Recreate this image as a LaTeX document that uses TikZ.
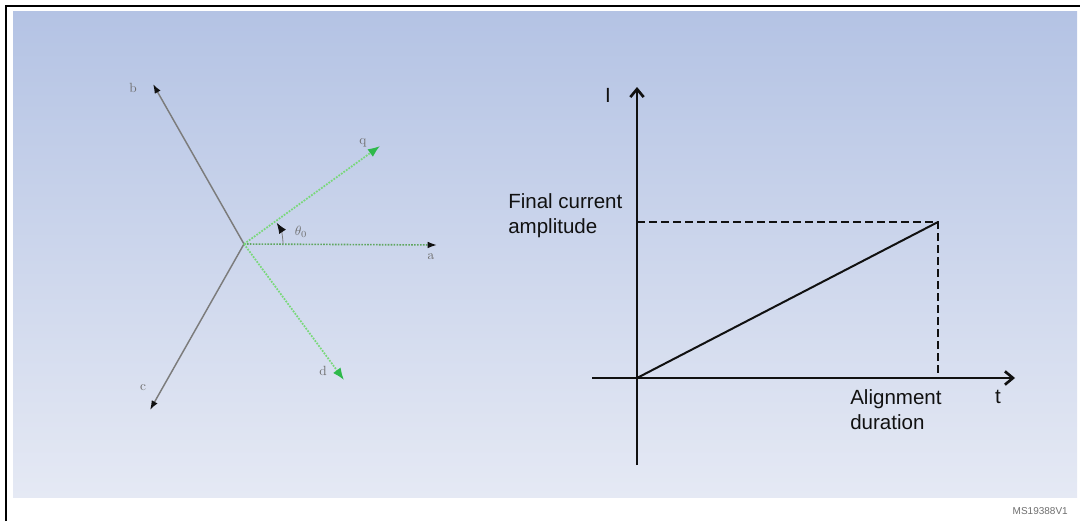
\documentclass[tikz,border=0pt]{standalone}
\usepackage{fontspec}
\setsansfont{Liberation Sans}
\usetikzlibrary{arrows.meta}
\definecolor{bgTop}{HTML}{B4C3E4}
\definecolor{bgBot}{HTML}{E5E9F4}
\definecolor{phGray}{HTML}{7C7C7C}
\definecolor{dqLine}{HTML}{78D878}
\definecolor{dqTip} {HTML}{2EB94B}
\definecolor{aLine} {HTML}{5FA65F}
\definecolor{lbl}   {HTML}{6E6E6E}
\definecolor{ink}   {HTML}{111111}

\begin{document}
\begin{tikzpicture}[x=0.75pt,y=0.75pt,
    frame/.style ={draw=black,line width=1.5pt},
    phase/.style ={draw=phGray,line width=1.1pt,-{Latex[length=7pt,width=5pt,color=ink]}},
    aaxis/.style ={draw=aLine,line width=1.2pt,densely dotted,-{Latex[length=7pt,width=5pt,color=ink]}},
    dqaxis/.style={draw=dqLine,line width=1.3pt,densely dotted,-{Latex[length=9pt,width=7pt,color=dqTip]}},
    tharc/.style ={draw=phGray,line width=0.6pt,-{Latex[length=8pt,width=6pt,color=ink]}},
    phlbl/.style ={font=\normalsize,text=lbl,inner sep=0pt},
    axisln/.style={draw=ink,line width=2pt},
    guide/.style ={draw=ink,line width=1.8pt,dash pattern=on 6pt off 3pt},
    ramp/.style  ={draw=ink,line width=1.5pt},
    glbl/.style  ={font=\sffamily\fontsize{15.4}{18.75}\selectfont,text=ink,inner sep=0pt},
  ]

% fixed bounding box -> same proportions as the 1080x521 reference
\useasboundingbox (0,0) rectangle (1080,-521);

% ---- frame and background --------------------------------------------------
\shade[top color=bgTop,bottom color=bgBot] (13,-11) rectangle (1077,-497);
\draw[frame] (6,-521) -- (6,-6) -- (1080,-6);
\node[anchor=base east,font=\sffamily\fontsize{7.5}{9}\selectfont,text=lbl,inner sep=0pt]
  (tag) at (1068,-514) {MS19388V1};

% ---- phasor diagram --------------------------------------------------------
\coordinate (O)  at (244,-244);
\coordinate (aE) at (437,-245);
\coordinate (bE) at (153,-84);
\coordinate (cE) at (150,-410);
\coordinate (qE) at (380,-146);
\coordinate (dE) at (344,-380);

\draw[phase]  (O) -- (bE);
\draw[phase]  (O) -- (cE);
\draw[aaxis]  (O) -- (aE);
\draw[dqaxis] (O) -- (qE);
\draw[dqaxis] (O) -- (dE);
\draw[tharc] ([shift={(0:39)}]O) arc[start angle=0,end angle=33,radius=39];

\node[phlbl] (bLbl) at (133,-88)  {b};
\node[phlbl] (cLbl) at (143,-388) {c};
\node[phlbl] (aLbl) at (431,-257) {a};
\node[phlbl] (qLbl) at (363,-143) {q};
\node[phlbl] (dLbl) at (323,-371) {d};
\node[phlbl] (thLbl) at (301,-232) {$\theta_0$};

% ---- current ramp ----------------------------------------------------------
\coordinate (Og)   at (637,-378);
\coordinate (yTop) at (637,-87);
\coordinate (yBot) at (637,-465);
\coordinate (xL)   at (592,-378);
\coordinate (xR)   at (1015,-378);
\coordinate (Pk)   at (938,-222);

\draw[axisln,-{Straight Barb[length=6pt,width=10pt]}] (yBot) -- (yTop);
\draw[axisln,-{Straight Barb[length=6pt,width=10pt]}] (xL) -- (xR);
\draw[guide] (Og |- Pk) -- (Pk) -- (Pk |- Og);
\draw[ramp] (Og) -- (Pk);

\node[glbl,anchor=base] (iLbl) at (608,-102) {I};
\node[glbl,anchor=base] (tLbl) at (998,-403) {t};
\node[glbl,anchor=north west,align=left] (ampLbl) at (508,-193)
  {Final current\\amplitude};
\node[glbl,anchor=north west,align=left] (durLbl) at (850,-389)
  {Alignment\\duration};

\end{tikzpicture}
\end{document}
